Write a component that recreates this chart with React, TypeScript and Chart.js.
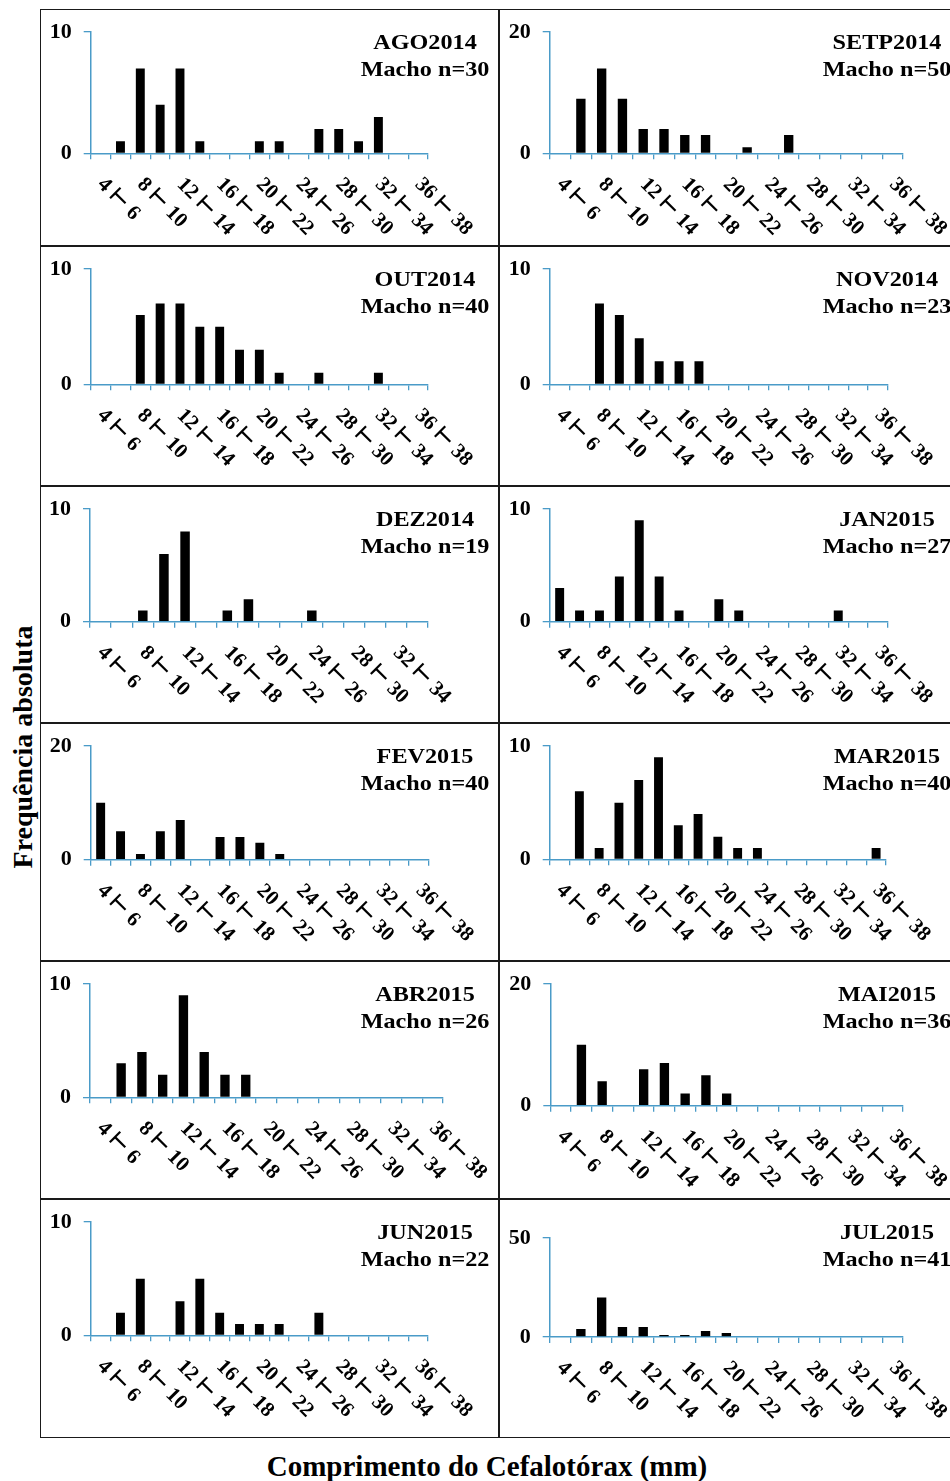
import React, { useEffect, useRef } from 'react';
import { Chart, registerables } from 'chart.js';

Chart.register(...registerables);

// ---------- DATA ----------
const CLASSES_17 = ['4 ⊢ 6', '6 ⊢ 8', '8 ⊢ 10', '10 ⊢ 12', '12 ⊢ 14', '14 ⊢ 16', '16 ⊢ 18', '18 ⊢ 20', '20 ⊢ 22', '22 ⊢ 24', '24 ⊢ 26', '26 ⊢ 28', '28 ⊢ 30', '30 ⊢ 32', '32 ⊢ 34', '34 ⊢ 36', '36 ⊢ 38'];
const CLASSES_16 = ['4 ⊢ 6', '6 ⊢ 8', '8 ⊢ 10', '10 ⊢ 12', '12 ⊢ 14', '14 ⊢ 16', '16 ⊢ 18', '18 ⊢ 20', '20 ⊢ 22', '22 ⊢ 24', '24 ⊢ 26', '26 ⊢ 28', '28 ⊢ 30', '30 ⊢ 32', '32 ⊢ 34', '34 ⊢ 36'];

const AGO2014 = [0, 1, 7, 4, 7, 1, 0, 0, 1, 1, 0, 2, 2, 1, 3, 0, 0];
const SETP2014 = [0, 9, 14, 9, 4, 4, 3, 3, 0, 1, 0, 3, 0, 0, 0, 0, 0];
const OUT2014 = [0, 0, 6, 7, 7, 5, 5, 3, 3, 1, 0, 1, 0, 0, 1, 0, 0];
const NOV2014 = [0, 0, 7, 6, 4, 2, 2, 2, 0, 0, 0, 0, 0, 0, 0, 0, 0];
const DEZ2014 = [0, 0, 1, 6, 8, 0, 1, 2, 0, 0, 1, 0, 0, 0, 0, 0];
const JAN2015 = [3, 1, 1, 4, 9, 4, 1, 0, 2, 1, 0, 0, 0, 0, 1, 0, 0];
const FEV2015 = [10, 5, 1, 5, 7, 0, 4, 4, 3, 1, 0, 0, 0, 0, 0, 0, 0];
const MAR2015 = [0, 6, 1, 5, 7, 9, 3, 4, 2, 1, 1, 0, 0, 0, 0, 0, 1];
const ABR2015 = [0, 3, 4, 2, 9, 4, 2, 2, 0, 0, 0, 0, 0, 0, 0, 0, 0];
const MAI2015 = [0, 10, 4, 0, 6, 7, 2, 5, 2, 0, 0, 0, 0, 0, 0, 0, 0];
const JUN2015 = [0, 2, 5, 0, 3, 5, 2, 1, 1, 1, 0, 2, 0, 0, 0, 0, 0];
const JUL2015 = [0, 4, 20, 5, 5, 1, 1, 3, 2, 0, 0, 0, 0, 0, 0, 0, 0];

const MONTHS = ['AGO2014', 'SETP2014', 'OUT2014', 'NOV2014', 'DEZ2014', 'JAN2015', 'FEV2015', 'MAR2015', 'ABR2015', 'MAI2015', 'JUN2015', 'JUL2015'];
const SAMPLE_N = [30, 50, 40, 23, 19, 27, 40, 40, 26, 36, 22, 41];
const Y_MAX = [10, 20, 10, 10, 10, 10, 20, 10, 10, 20, 10, 50];
const SERIES = [AGO2014, SETP2014, OUT2014, NOV2014, DEZ2014, JAN2015, FEV2015, MAR2015, ABR2015, MAI2015, JUN2015, JUL2015];
const CLASS_SETS = [CLASSES_17, CLASSES_17, CLASSES_17, CLASSES_17, CLASSES_16, CLASSES_17, CLASSES_17, CLASSES_17, CLASSES_17, CLASSES_17, CLASSES_17, CLASSES_17];

const Y_TITLE = 'Frequência absoluta';
const X_TITLE = 'Comprimento do Cefalotórax (mm)';

// ---------- LAYOUT (absolute page px) ----------
const COLS = [{ x: 40, w: 459 }, { x: 499, w: 455 }];
const ROW_TOP = [9, 246, 486, 723, 961, 1199];
const ROW_H = [237, 240, 237, 238, 238, 239];
// plot area per panel: [axisX, top, bottom(y=0), right]
const PLOT = [
  [90.7, 22.3, 153.3, 428],
  [549.7, 22.3, 153.3, 903],
  [90.7, 261, 384.3, 428],
  [549.7, 261, 384.3, 888],
  [90, 499, 621.7, 428],
  [549.7, 500, 621.7, 888],
  [90.7, 737, 859.7, 429],
  [549.7, 737, 859.3, 886],
  [90, 975, 1097.3, 443],
  [550.3, 983.3, 1105.7, 903],
  [90.7, 1213, 1335.3, 428],
  [549.7, 1238, 1337, 903],
];

const BLUE = '#4a9bc8';
const SERIF = '"Liberation Serif", "Times New Roman", "DejaVu Sans", serif';

const panelText = {
  id: 'panelText',
  afterDraw(chart: any, _args: any, opts: any) {
    const ctx = chart.ctx;
    const xs = chart.scales.x;
    const base = chart.chartArea.bottom;
    ctx.save();
    ctx.fillStyle = '#000';
    ctx.font = `bold 21px ${SERIF}`;
    ctx.textAlign = 'left';
    ctx.textBaseline = 'middle';
    (chart.data.labels as string[]).forEach((lab, i) => {
      if (i % 2 !== 0) return;
      const x = xs.getPixelForValue(i);
      ctx.save();
      ctx.translate(x, base + 28);
      ctx.rotate(Math.PI / 4);
      ctx.fillText(lab, 0, 0);
      ctx.restore();
    });
    ctx.font = `bold 22px ${SERIF}`;
    ctx.textAlign = 'center';
    ctx.textBaseline = 'alphabetic';
    ctx.translate(opts.cx, 0);
    ctx.scale(1.1, 1);
    ctx.fillText(opts.title, 0, 40);
    ctx.fillText(opts.sub, 0, 67);
    ctx.restore();
  },
};

function Panel({ idx }: { idx: number }) {
  const ref = useRef<HTMLCanvasElement>(null);
  const col = COLS[idx % 2];
  const row = Math.floor(idx / 2);
  const left = col.x;
  const top = ROW_TOP[row];
  const w = col.w;
  const h = ROW_H[row];
  const [ax, pt, pb, pr] = PLOT[idx];

  useEffect(() => {
    if (!ref.current) return;
    const yW = ax - left;
    const xH = h - (pb - top);
    const chart = new Chart(ref.current, {
      type: 'bar',
      data: {
        labels: CLASS_SETS[idx],
        datasets: [
          {
            data: SERIES[idx],
            backgroundColor: '#000',
            borderWidth: 0,
            barPercentage: 0.45,
            categoryPercentage: 1,
          },
        ],
      },
      options: {
        responsive: false,
        animation: false,
        devicePixelRatio: 1,
        layout: { padding: { left: 0, top: pt - top, right: w - (pr - left), bottom: 0 } },
        plugins: {
          legend: { display: false },
          tooltip: { enabled: false },
          panelText: { cx: idx % 2 === 0 ? 385 : 388, title: MONTHS[idx], sub: `Macho n=${SAMPLE_N[idx]}` },
        } as any,
        scales: {
          x: {
            offset: true,
            grid: { display: true, offset: true, drawOnChartArea: false, drawTicks: true, tickLength: 6, color: BLUE, lineWidth: 1.3 },
            border: { display: true, color: BLUE, width: 1.5 },
            ticks: { display: false },
            afterFit: (s: any) => {
              s.height = xH;
            },
          },
          y: {
            min: 0,
            max: Y_MAX[idx],
            ticks: { stepSize: Y_MAX[idx], color: '#000', padding: 12, font: { family: SERIF, size: 22, weight: 'bold', lineHeight: 1 } },
            grid: { drawOnChartArea: false, drawTicks: true, tickLength: 7, color: BLUE, lineWidth: 1.3 },
            border: { display: true, color: BLUE, width: 1.5 },
            afterFit: (s: any) => {
              s.width = yW;
            },
          },
        },
      } as any,
      plugins: [panelText],
    });
    return () => chart.destroy();
  }, []);

  return (
    <div style={{ position: 'absolute', left, top, width: w, height: h }}>
      <canvas ref={ref} width={w} height={h} style={{ position: 'absolute', left: 0, top: 0, width: w, height: h }} />
      <div style={{ position: 'absolute', left: 0, top: 0, width: w, height: h, border: '1.5px solid #1a1a1a', boxSizing: 'border-box' }} />
    </div>
  );
}

export default function App() {
  return (
    <div style={{ position: 'absolute', left: 0, top: 0, width: 950, height: 1481, overflow: 'hidden', background: '#fff' }}>
      {MONTHS.map((_, i) => (
        <Panel key={i} idx={i} />
      ))}
      <div
        style={{
          position: 'absolute',
          left: 23,
          top: 747,
          transform: 'translate(-50%, -50%) rotate(-90deg)',
          whiteSpace: 'nowrap',
          font: `bold 28px ${SERIF}`,
          color: '#000',
        }}
      >
        {Y_TITLE}
      </div>
      <div
        style={{
          position: 'absolute',
          left: 487,
          top: 1466,
          transform: 'translate(-50%, -50%)',
          whiteSpace: 'nowrap',
          font: `bold 29px ${SERIF}`,
          color: '#000',
        }}
      >
        {X_TITLE}
      </div>
    </div>
  );
}
